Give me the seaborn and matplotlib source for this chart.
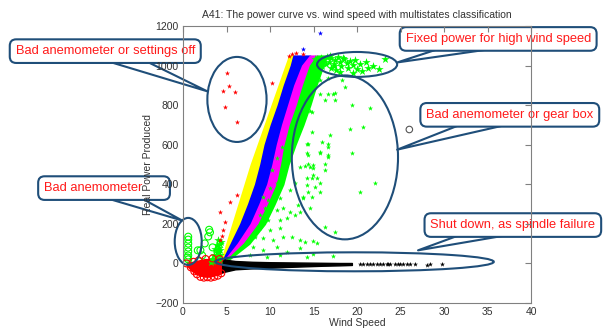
import numpy as np
import pandas as pd
import seaborn as sns
import matplotlib.pyplot as plt
from matplotlib.patches import Ellipse

# ---- data ----
# power-curve bands: wind speed at each band boundary for a given power level
band_power = [0, 100, 200, 300, 400, 500, 600, 700, 800, 900, 1000, 1050]
yellow_left = [4.3, 5.0, 5.7, 6.4, 7.1, 7.8, 8.6, 9.4, 10.2, 11.0, 11.8, 12.2]
yellow_blue = [4.4, 5.5, 6.6, 7.5, 8.3, 8.9, 9.4, 10.1, 10.9, 11.6, 12.4, 12.7]
blue_magenta = [4.5, 6.3, 7.8, 8.8, 9.7, 10.3, 10.8, 11.4, 12.1, 12.8, 13.7, 14.6]
magenta_green = [4.6, 7.0, 8.7, 9.8, 10.8, 11.3, 11.7, 12.3, 13.1, 13.8, 14.6, 15.4]
green_right = [4.7, 7.6, 9.4, 10.5, 11.5, 12.1, 12.9, 13.8, 14.6, 15.3, 16.1, 16.4]

# scattered green points (abnormal, below the curve)
green_x = [16.3, 17.2, 17.5, 19.4, 21.5, 14.8, 19.2, 20.7, 14.8, 16.9, 16.0, 14.3, 16.6, 19.4,
           14.6, 14.9, 16.3, 14.4, 15.7, 16.6, 14.0, 14.9, 14.3, 14.8, 15.4, 14.3, 15.2, 14.4,
           15.7, 13.8, 14.8, 22.1, 20.3, 14.6, 13.4, 16.3, 17.5, 14.0, 14.9, 15.4, 13.4, 14.9,
           17.2, 14.3, 9.2, 9.8, 11.1, 9.4, 10.8, 11.5, 12.3, 8.9, 9.8, 11.1, 12.0, 12.9, 8.9,
           10.0, 11.1, 8.3, 9.2, 10.3, 11.5, 12.5, 13.4, 8.0, 9.2, 10.8, 12.0, 7.7, 9.7, 11.1,
           10.0, 12.3, 10.8, 11.5, 13.4, 12.0, 10.8, 10.2, 12.9, 13.2, 13.8, 15.7, 14.3, 14.4,
           11.4, 11.7, 14.9, 16.3, 16.6, 14.4, 16.6, 15.7, 15.7, 16.7, 18.3, 15.7, 16.6, 17.5,
           14.6, 18.6]
green_y = [824, 859, 824, 799, 788, 768, 682, 692, 662, 647, 612, 606, 586, 556,
           485, 495, 505, 546, 561, 536, 490, 480, 430, 430, 430, 394, 384, 359,
           359, 334, 334, 409, 359, 278, 258, 182, 157, 106, 111, 101, 76, 45,
           35, 30, 334, 318, 329, 278, 268, 278, 258, 243, 217, 217, 232, 243, 177,
           167, 177, 131, 126, 116, 131, 131, 116, 81, 66, 81, 56, 40, 30, 40,
           379, 369, 404, 455, 485, 521, 531, 470, 409, 293, 329, 404, 556, 505,
           586, 556, 445, 470, 546, 606, 606, 556, 925, 935, 925, 859, 859, 864,
           773, 890]

# green cluster at rated power for high wind speeds
flat_x = [15.8, 16.2, 16.5, 16.8, 17.0, 17.3, 17.5, 17.8, 18.0, 18.2, 18.5, 18.8, 19.0, 19.2,
          19.5, 19.8, 20.0, 20.3, 20.6, 21.0, 21.3, 21.8, 22.5, 23.2, 16.0, 17.0, 16.4, 18.0,
          19.5, 17.6, 15.5, 16.0, 16.9, 17.4, 18.4, 15.2]
flat_y = [1040, 1030, 1045, 1020, 1038, 1010, 1030, 1045, 1020, 1000, 1035, 1015, 990, 1025,
          1005, 1030, 985, 1010, 975, 1020, 990, 1000, 985, 1031, 1000, 990, 1010, 970,
          965, 980, 1025, 1015, 1050, 1000, 1040, 1035]

# green at low wind speed
lowgreen_x = [3.3, 3.6, 3.9, 4.1, 4.2, 3.5, 3.8, 4.0, 4.3, 4.4, 4.0, 3.2, 4.3, 3.9, 3.7, 4.2]
lowgreen_y = [20, 40, 60, 80, 100, 10, 30, 50, 70, 110, 120, 5, 40, 95, 75, 15]

# green open circles (bad anemometer)
ring_x = [0.6, 0.6, 0.6, 0.6, 0.6, 0.6, 0.6, 0.5, 1.7, 2.0, 2.5, 3.1, 2.9, 3.4, 3.0, 2.2]
ring_y = [20, 40, 60, 80, 100, 120, 135, 30, 66, 66, 101, 157, 136, 81, 170, 40]

# red low-wind cluster
redblob_x = [0.5, 1.0, 1.5, 2.0, 2.5, 3.0, 3.5, 4.0, 4.5]
redblob_lo = [-10, -35, -50, -60, -65, -65, -60, -55, -45]
redblob_hi = [5, 5, 10, 15, 20, 20, 25, 25, 20]
redring_x = [0.4, 0.9, 1.3, 1.6, 2.0, 2.4, 2.8, 3.2, 3.6, 4.0, 4.4, 1.8, 2.6, 3.4, 4.2, 1.2, 2.2, 3.0, 3.8]
redring_y = [0, -20, -40, -55, -68, -72, -70, -72, -68, -62, -50, 15, 22, 25, 22, 8, -45, -50, -40]

# red stars: curve edge, outliers, settings-off points
red_x = [4.3, 5.4, 6.2, 4.8, 4.6, 4.5, 4.3, 5.06, 4.6, 5.3, 6.0, 4.8, 6.2, 10.2, 12.5, 13.0, 13.8, 12.2]
red_y = [258, 308, 344, 207, 167, 136, 116, 965, 874, 895, 869, 793, 713, 910, 1061, 1065, 1061, 1050]

blue_x = [15.7, 13.8]
blue_y = [1167, 1082]

# black: shutdown (zero power)
black_band_x = [4.5, 5, 6, 8, 10, 12, 14, 16, 18, 19.4]
black_band_lo = [-45, -40, -30, -25, -22, -18, -15, -12, -10, -8]
black_band_hi = [25, 18, 12, 8, 6, 5, 4, 3, 2, 2]
black_x = [20.3, 20.7, 21.1, 21.5, 21.8, 22.3, 22.6, 23.0, 23.4, 23.6, 23.8, 24.4, 24.7, 24.9,
           25.3, 25.7, 26.1, 26.7, 28.0, 28.4, 29.8]
black_y = [-3, -3, -3, -3, -3, -3, -3, -3, -3, -5, -3, -3, -5, -3, -3, -3, -3, -3, -6, -3, -3]

gray_x = [26.0]
gray_y = [677]

# annotations: (text, box centre in figure fraction, tip in data)
notes = [
    ("Bad anemometer or settings off", (0.172, 0.845), (2.8, 870)),
    ("Fixed power for high wind speed", (0.814, 0.882), (24.6, 1016)),
    ("Bad anemometer or gear box", (0.833, 0.652), (24.6, 575)),
    ("Bad anemometer      ", (0.170, 0.430), (-0.1, 217)),
    ("Shut down, as spindle failure", (0.838, 0.318), (27.0, 66)),
]
ellipses = [((6.2, 829), 6.8, 430), ((20.0, 1006), 9.2, 126), ((18.6, 536), 12.2, 829),
            ((0.6, 111), 3.1, 238), ((19.7, 8), 32.0, 96)]

navy = "#1f4e79"

sns.set_style("white")
plt.rcParams['font.family'] = ['Liberation Sans', 'DejaVu Sans']

fig = plt.figure(figsize=(6.12, 3.3), dpi=100)
ax = fig.add_axes([0.299, 0.082, 0.569, 0.839])
ax.set_axisbelow(False)

# bands
ax.fill_betweenx(band_power, yellow_left, yellow_blue, color="#ffff00", lw=1.2, zorder=1.2)
ax.fill_betweenx(band_power, yellow_blue, blue_magenta, color="#0000ff", lw=1.2, zorder=1.2)
ax.fill_betweenx(band_power, blue_magenta, magenta_green, color="#ff00ff", lw=1.2, zorder=1.2)
ax.fill_betweenx(band_power, magenta_green, green_right, color="#00ff00", lw=1.2, zorder=1.2)
ax.fill_between(redblob_x, redblob_lo, redblob_hi, color="red", lw=1.5, zorder=1.2)
ax.fill_between(black_band_x, black_band_lo, black_band_hi, color="black", lw=1, zorder=1.2)

star = dict(marker="*", linewidth=0, ax=ax, legend=False, zorder=1.5)
sns.scatterplot(x=green_x, y=green_y, color="#00ff00", s=15, **star)
sns.scatterplot(x=flat_x, y=flat_y, color="#00ff00", s=40, **star)
sns.scatterplot(x=lowgreen_x, y=lowgreen_y, color="#00ff00", s=40, **star)
sns.scatterplot(x=red_x, y=red_y, color="red", s=15, **star)
sns.scatterplot(x=blue_x, y=blue_y, color="blue", s=15, **star)
sns.scatterplot(x=black_x, y=black_y, color="black", s=14, **star)
sns.scatterplot(x=ring_x, y=ring_y, marker="o", facecolors="none", edgecolor="#00ff00",
                s=25, linewidth=0.8, ax=ax, legend=False, zorder=1.5)
sns.scatterplot(x=redring_x, y=redring_y, marker="o", facecolors="none", edgecolor="red",
                s=25, linewidth=0.8, ax=ax, legend=False, zorder=1.5)
sns.scatterplot(x=gray_x, y=gray_y, marker="o", facecolors="none", edgecolor="#555555",
                s=22, linewidth=0.8, ax=ax, legend=False, zorder=1.5)

for (cx, cy), w, h in ellipses:
    ax.add_patch(Ellipse((cx, cy), w, h, fill=False, ec=navy, lw=1.5, clip_on=False, zorder=1.8))

# callouts sit below the axis layer, like the original where the spine and labels show through
for text, pos, tip in notes:
    ax.annotate(text, xy=tip, xycoords="data", xytext=pos, textcoords="figure fraction",
                ha="center", va="center", color="#ff1a1a", fontsize=9.3, annotation_clip=False,
                bbox=dict(boxstyle="round,pad=0.45,rounding_size=0.5", fc="white", ec=navy, lw=1.5),
                arrowprops=dict(arrowstyle="wedge,tail_width=0.65", mutation_scale=20,
                                fc="white", ec=navy, lw=1.5, patchA=None, shrinkA=0, shrinkB=0),
                zorder=2.2)

ax.set_xlim(0, 40)
ax.set_ylim(-200, 1200)
ax.set_xticks(range(0, 41, 5))
ax.set_yticks(range(-200, 1201, 200))
ax.tick_params(direction="in", length=4, width=0.8, colors="#808080", labelcolor="#333333",
               labelsize=7.5, top=True, right=True, pad=3)
for sp in ax.spines.values():
    sp.set_color("#808080")
    sp.set_linewidth(0.8)
ax.set_title("A41: The power curve vs. wind speed with multistates classification",
             fontsize=7.5, color="#333333", pad=6)
ax.set_xlabel("Wind Speed", fontsize=7.5, color="#333333", labelpad=1)
ax.set_ylabel("Real Power Produced", fontsize=7.5, color="#333333", labelpad=2)

fig.savefig("out.png", dpi=100)
